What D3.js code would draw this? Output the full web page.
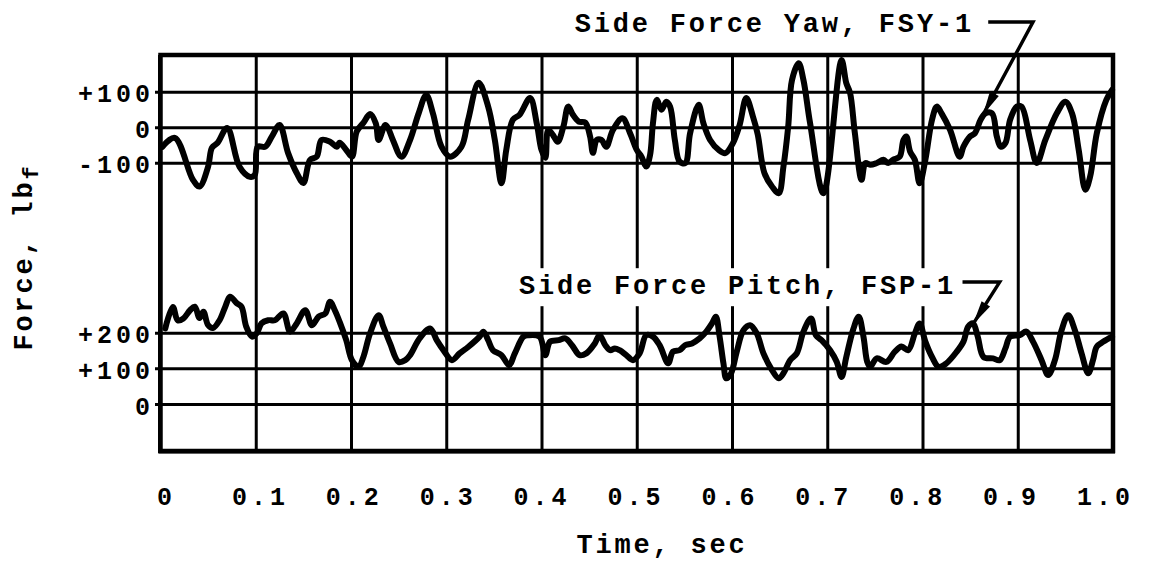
<!DOCTYPE html>
<html>
<head>
<meta charset="utf-8">
<script src="https://cdn.jsdelivr.net/npm/d3@7"></script>
<style>
  html, body { margin: 0; padding: 0; background: #fff; }
  svg { display: block; }
  text { font-family: "Courier New", "Liberation Mono", monospace; font-weight: bold; fill: #000; }
  .tick-label { font-size: 25px; letter-spacing: 4px; }
  .big-label { font-size: 27px; letter-spacing: 2.8px; }
</style>
</head>
<body>
<svg id="chart" width="1164" height="574"></svg>
<script>
// ---- data -------------------------------------------------------------
const timeTicks = [0, 0.1, 0.2, 0.3, 0.4, 0.5, 0.6, 0.7, 0.8, 0.9, 1.0];
const timeTickLabels = ["0", "0.1", "0.2", "0.3", "0.4", "0.5", "0.6", "0.7", "0.8", "0.9", "1.0"];

const yawTicks = [100, 0, -100];
const yawTickLabels = ["+100", "0", "-100"];
const pitchTicks = [200, 100, 0];
const pitchTickLabels = ["+200", "+100", "0"];

const yawLabel = "Side Force Yaw, FSY-1";
const pitchLabel = "Side Force Pitch, FSP-1";
const xTitle = "Time, sec";

// Side force, yaw (lbf) vs time (sec)
const yawTime = [
  0.002, 0.015, 0.034, 0.041, 0.050, 0.054, 0.060, 0.070, 0.083, 0.094, 0.099, 0.102, 0.110, 0.117, 0.125,
  0.134, 0.143, 0.150, 0.157, 0.164, 0.169, 0.178, 0.185, 0.188, 0.195, 0.201, 0.206, 0.213, 0.220, 0.226,
  0.229, 0.236, 0.239, 0.244, 0.253, 0.262, 0.271, 0.279, 0.286, 0.295, 0.304, 0.316, 0.323, 0.334, 0.344,
  0.351, 0.358, 0.363, 0.370, 0.377, 0.388, 0.395, 0.400, 0.404, 0.407, 0.412, 0.417, 0.423, 0.428, 0.433,
  0.439, 0.446, 0.451, 0.454, 0.458, 0.463, 0.468, 0.475, 0.485, 0.493, 0.500, 0.505, 0.510, 0.514, 0.517,
  0.521, 0.526, 0.531, 0.535, 0.540, 0.545, 0.551, 0.556, 0.565, 0.570, 0.577, 0.586, 0.593, 0.601, 0.608,
  0.615, 0.622, 0.627, 0.634, 0.642, 0.649, 0.654, 0.659, 0.663, 0.670, 0.675, 0.682, 0.696, 0.715, 0.720,
  0.724, 0.729, 0.736, 0.740, 0.745, 0.752, 0.759, 0.764, 0.769, 0.776, 0.780, 0.783, 0.787, 0.792, 0.797,
  0.803, 0.810, 0.815, 0.820, 0.829, 0.839, 0.843, 0.850, 0.855, 0.861, 0.866, 0.873, 0.878, 0.882, 0.887,
  0.892, 0.899, 0.904, 0.913, 0.920, 0.929, 0.941, 0.950, 0.957, 0.964, 0.971, 0.976, 0.983, 0.993, 0.999
];
const yawForce = [
  -55, -30, -148, -167, -111, -58, -44, -2, -112, -140, -134, -55, -55, -26, 6,
  -73, -129, -157, -92, -83, -36, -41, -55, -44, -64, -83, -12, 12, 37, 11,
  -36, 6, -3, -36, -83, -36, 39, 91, 39, -55, -83, -55, 21, 125, 58,
  -36, -158, -64, 21, 35, 82, 11, -64, -86, -8, -22, -41, 2, 58, 35,
  16, 13, -26, -72, -36, -36, -55, -8, 25, -17, -64, -83, -111, -78, 11,
  77, 49, 72, 58, -36, -97, -101, -17, 63, 11, -36, -64, -73, -45, 6,
  82, 30, -20, -129, -167, -186, -111, 2, 133, 180, 133, 11, -186, 189, 124,
  96, -17, -148, -101, -106, -101, -92, -101, -92, -83, -36, -26, -69, -92, -158,
  -92, 21, 58, 39, -8, -83, -55, -26, -17, 21, 39, 39, -26, -55, -45,
  21, 58, 58, -36, -101, -36, 39, 72, 39, -64, -176, -139, -17, 77, 105
];

// Side force, pitch (lbf) vs time (sec)
const pitchTime = [
  0.005, 0.013, 0.018, 0.024, 0.031, 0.036, 0.041, 0.045, 0.050, 0.055, 0.062, 0.068, 0.073, 0.080, 0.085,
  0.090, 0.096, 0.101, 0.106, 0.113, 0.120, 0.129, 0.136, 0.143, 0.152, 0.159, 0.166, 0.173, 0.178, 0.183,
  0.188, 0.195, 0.201, 0.208, 0.213, 0.220, 0.229, 0.234, 0.241, 0.250, 0.257, 0.262, 0.272, 0.283, 0.290,
  0.297, 0.306, 0.314, 0.323, 0.335, 0.339, 0.344, 0.349, 0.358, 0.366, 0.372, 0.381, 0.386, 0.398, 0.404,
  0.409, 0.418, 0.425, 0.432, 0.440, 0.447, 0.456, 0.461, 0.467, 0.472, 0.477, 0.482, 0.489, 0.496, 0.503,
  0.510, 0.517, 0.524, 0.533, 0.538, 0.545, 0.551, 0.558, 0.566, 0.573, 0.579, 0.583, 0.587, 0.591, 0.594,
  0.599, 0.605, 0.612, 0.619, 0.626, 0.633, 0.642, 0.649, 0.654, 0.661, 0.668, 0.675, 0.683, 0.688, 0.694,
  0.703, 0.710, 0.715, 0.720, 0.727, 0.733, 0.738, 0.742, 0.745, 0.752, 0.762, 0.771, 0.778, 0.785, 0.792,
  0.797, 0.803, 0.810, 0.817, 0.825, 0.836, 0.843, 0.848, 0.853, 0.858, 0.864, 0.874, 0.881, 0.887, 0.892,
  0.902, 0.909, 0.916, 0.925, 0.932, 0.939, 0.946, 0.953, 0.960, 0.967, 0.974, 0.979, 0.983, 0.990, 0.999
];
const pitchForce = [
  212, 272, 235, 240, 263, 273, 241, 259, 221, 213, 235, 273, 301, 283, 273,
  217, 189, 198, 226, 235, 235, 254, 203, 226, 263, 221, 245, 254, 287, 263,
  231, 179, 123, 104, 132, 198, 249, 217, 170, 118, 123, 137, 184, 212, 179,
  151, 123, 142, 160, 189, 203, 179, 151, 137, 109, 142, 189, 193, 189, 137,
  175, 179, 184, 165, 137, 142, 170, 193, 165, 151, 156, 151, 137, 123, 142,
  193, 189, 165, 114, 147, 151, 165, 170, 184, 203, 226, 245, 189, 114, 72,
  86, 147, 207, 221, 198, 142, 95, 72, 86, 123, 142, 203, 240, 193, 179,
  151, 118, 76, 132, 207, 245, 189, 118, 104, 128, 118, 147, 161, 151, 198,
  226, 175, 132, 104, 114, 147, 175, 217, 226, 189, 132, 128, 123, 156, 189,
  193, 203, 175, 123, 81, 123, 207, 249, 207, 142, 86, 123, 161, 175, 189
];

// ---- layout -----------------------------------------------------------
const svg = d3.select("#chart");
const plotLeft = 160.5, plotRight = 1113, plotTop = 55, plotBottom = 451;
const gridLeft = 155;

const x = d3.scaleLinear().domain([0, 1]).range([plotLeft, plotRight]);
// the typed tick labels run on a slightly narrower row than the grid
const xLabel = d3.scaleLinear().domain([0, 1]).range([plotLeft + 3.5, plotRight - 10]);
// two bands on one sheet, same lbf-per-pixel, different zero lines
const yYaw = d3.scaleLinear().domain([-100, 100]).range([162.7, 91.7]);
const yPitch = d3.scaleLinear().domain([0, 200]).range([404, 332.7]);

// vertical grid (every 0.1 sec)
svg.append("g")
  .attr("transform", `translate(0,${plotBottom})`)
  .call(d3.axisBottom(x).tickValues(timeTicks.slice(1, -1)).tickSize(-(plotBottom - plotTop)).tickFormat(""))
  .call(g => g.select(".domain").remove())
  .call(g => g.selectAll("line").attr("stroke", "#000").attr("stroke-width", 3));

// horizontal grid + force tick labels for each band
function band(scale, ticks, labels) {
  const g = svg.append("g")
    .attr("transform", `translate(${plotRight},0)`)
    .call(d3.axisLeft(scale).tickValues(ticks).tickSize(plotRight - gridLeft).tickPadding(0)
      .tickFormat((d, i) => labels[i]));
  g.attr("font-family", null).attr("font-size", null);
  g.select(".domain").remove();
  g.selectAll("line").attr("stroke", "#000").attr("stroke-width", 3);
  g.selectAll("text")
    .attr("class", "tick-label")
    .attr("x", -(plotRight - 150) + 4)
    .attr("dy", 10)
    .attr("text-anchor", "end");
}
band(yYaw, yawTicks, yawTickLabels);
band(yPitch, pitchTicks, pitchTickLabels);

// time tick labels
const xa = svg.append("g")
  .attr("transform", `translate(0,${plotBottom})`)
  .call(d3.axisBottom(xLabel).tickValues(timeTicks).tickSize(0).tickFormat((d, i) => timeTickLabels[i]));
xa.attr("font-family", null).attr("font-size", null);
xa.select(".domain").remove();
xa.selectAll("text").attr("class", "tick-label").attr("y", 54).attr("dy", 0).attr("dx", 2);

// frame
svg.append("rect")
  .attr("x", plotLeft).attr("y", plotTop)
  .attr("width", plotRight - plotLeft).attr("height", plotBottom - plotTop)
  .attr("fill", "none").attr("stroke", "#000").attr("stroke-width", 4.5);
svg.append("line")
  .attr("x1", plotLeft - 1).attr("x2", plotLeft - 1).attr("y1", plotTop).attr("y2", plotBottom + 2)
  .attr("stroke", "#000").attr("stroke-width", 3);
svg.append("line")
  .attr("x1", plotLeft - 2).attr("x2", plotRight + 2).attr("y1", plotBottom + 1).attr("y2", plotBottom + 1)
  .attr("stroke", "#000").attr("stroke-width", 3);

// traces
const trace = (scale) => d3.line()
  .x(d => x(d[0])).y(d => scale(d[1]))
  .curve(d3.curveCatmullRom.alpha(0.5));

const yawPts = yawTime.map((t, i) => [t, yawForce[i]]);
const pitchPts = pitchTime.map((t, i) => [t, pitchForce[i]]);

// label backing that breaks the grid under the pitch caption
function annotate(scale, text, labelT, labelF, hookT, elbowT, elbowF, tipT, tipF, whiteBox) {
  const lx = x(labelT), ly = scale(labelF);
  const t = svg.append("text").attr("class", "big-label").attr("x", lx).attr("y", ly).text(text);
  if (whiteBox) {
    const bb = t.node().getBBox();
    svg.insert("rect", "text.big-label")
      .attr("x", bb.x - 8).attr("y", bb.y - 4)
      .attr("width", bb.width + 14).attr("height", bb.height + 8)
      .attr("fill", "#fff");
  }
  const ex = x(elbowT), ey = scale(elbowF);
  const tx = x(tipT), ty = scale(tipF);
  svg.append("polyline")
    .attr("points", [[x(hookT), ey], [ex, ey], [tx, ty]].map(p => p.join(",")).join(" "))
    .attr("fill", "none").attr("stroke", "#000").attr("stroke-width", 3.5)
    .attr("stroke-linejoin", "miter");
  // arrowhead
  const dx = ex - tx, dy = ey - ty, len = Math.hypot(dx, dy);
  const ux = dx / len, uy = dy / len;
  const L = 24, hw = 5;
  const bx = tx + ux * L, by = ty + uy * L;
  svg.append("polygon")
    .attr("points", [[tx, ty], [bx - uy * hw, by + ux * hw], [bx + uy * hw, by - ux * hw]]
      .map(p => p.join(",")).join(" "))
    .attr("fill", "#000");
}

annotate(yPitch, pitchLabel, 0.3764, 308, 0.842, 0.881, 342, 0.853, 224, true);

svg.append("path").datum(yawPts)
  .attr("d", trace(yYaw))
  .attr("fill", "none").attr("stroke", "#000").attr("stroke-width", 6)
  .attr("stroke-linejoin", "round").attr("stroke-linecap", "round");
svg.append("path").datum(pitchPts)
  .attr("d", trace(yPitch))
  .attr("fill", "none").attr("stroke", "#000").attr("stroke-width", 6)
  .attr("stroke-linejoin", "round").attr("stroke-linecap", "round");

annotate(yYaw, yawLabel, 0.435, 268, 0.869, 0.916, 296, 0.8635, 35, false);

// axis titles
svg.append("text").attr("class", "big-label")
  .attr("x", 662).attr("y", 553).attr("text-anchor", "middle").text(xTitle);

const yt = svg.append("text").attr("class", "big-label")
  .attr("transform", "translate(32,257) rotate(-90)")
  .attr("text-anchor", "middle");
yt.append("tspan").text("Force, lb");
yt.append("tspan").attr("dy", 6).style("font-size", "22px").text("f");
</script>
</body>
</html>
